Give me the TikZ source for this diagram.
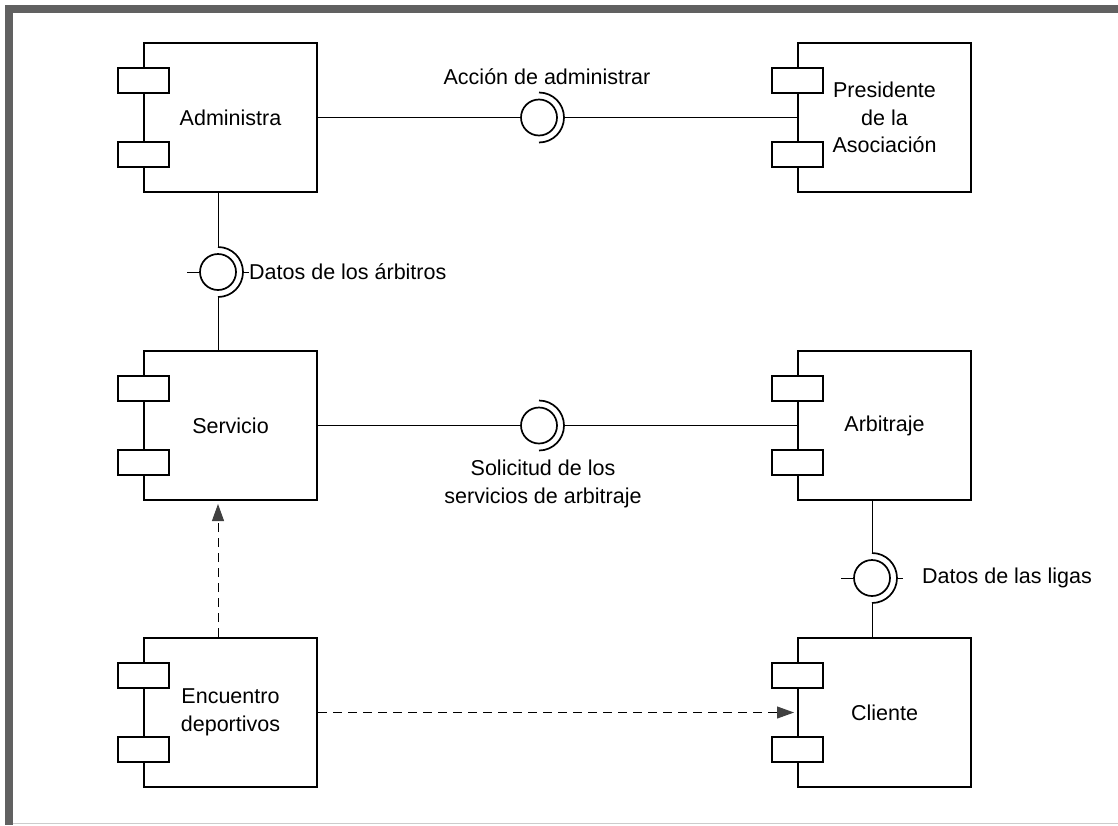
\documentclass[tikz,border=0pt]{standalone}
\usepackage{fontspec}
\setmainfont{Liberation Sans}
\usetikzlibrary{arrows.meta}
\newcommand{\ports}[1]{%
  \node[port] at ([yshift=37pt]#1.west) {};
  \node[port] at ([yshift=-37pt]#1.west) {};}
\newcommand{\socket}[1]{%
  \draw[sock] ([yshift=25pt]#1.center) arc[start angle=90,end angle=-90,radius=25pt];}
\begin{document}
\begin{tikzpicture}[x=1pt,y=-1pt,
  comp/.style={draw,line width=2pt,minimum width=173pt,minimum height=149pt,align=center,font=\fontsize{21.5}{27.5}\selectfont},
  port/.style={draw,fill=white,line width=2pt,minimum width=51pt,minimum height=25pt,inner sep=0pt},
  ball/.style={draw,circle,line width=1.7pt,minimum size=36pt,inner sep=0pt},
  sock/.style={line width=1.7pt},
  wire/.style={line width=0.9pt},
  dep/.style={line width=1pt,dash pattern=on 9pt off 6pt,-{Triangle[length=17pt,width=12pt,color=black!75]}},
  lbl/.style={inner sep=0pt,font=\fontsize{21.5}{27.5}\selectfont,align=center}]
\useasboundingbox (0,0) rectangle (1118,825);
\fill[black!62] (5,5) rectangle (1118,12.5);
\fill[black!62] (5,5) rectangle (12.5,825);
\draw[black!20] (12.5,823.5) -- (1118,823.5);

\node[comp] (adm) at (230.5,117.5) {Administra};
\node[comp] (pres) at (884.5,117.5) {Presidente\\de la\\Asociación};
\node[comp] (serv) at (230.5,425.5) {Servicio};
\node[comp] (arb) at (884.5,425.5) {Arbitraje};
\node[comp] (enc) at (230.5,712.5) {Encuentro\\deportivos};
\node[comp] (cli) at (884.5,712.5) {Cliente};
\ports{adm} \ports{pres} \ports{serv} \ports{arb} \ports{enc} \ports{cli}

\node[ball] (b1) at (539,117.5) {};
\node[ball] (b2) at (218,272) {};
\node[ball] (b3) at (539,425.5) {};
\node[ball] (b4) at (872,578) {};
\socket{b1} \socket{b2} \socket{b3} \socket{b4}

\draw[wire] (adm.east) -- (b1.west);
\draw[wire] (pres.west) -- ([xshift=25pt]b1.center);
\draw[wire] ([xshift=-12.5pt]adm.south) -- ([yshift=25pt]b2.center);
\draw[wire] ([xshift=-12.5pt]serv.north) -- ([yshift=-25pt]b2.center);
\draw[wire] (b2.west) -- ++(-12,0);
\draw[wire] ([xshift=25pt]b2.center) -- ++(6,0);
\draw[wire] (serv.east) -- (b3.west);
\draw[wire] (arb.west) -- ([xshift=25pt]b3.center);
\draw[wire] ([xshift=-12.5pt]arb.south) -- ([yshift=25pt]b4.center);
\draw[wire] ([xshift=-12.5pt]cli.north) -- ([yshift=-25pt]b4.center);
\draw[wire] (b4.west) -- ++(-12,0);
\draw[wire] ([xshift=25pt]b4.center) -- ++(6,0);

\draw[dep] ([xshift=-12.5pt]enc.north) -- ([xshift=-12.5pt,yshift=-3pt]serv.south);
\draw[dep] (enc.east) -- ([xshift=-3pt]cli.west);

\node[lbl] (l1) at (547,77) {Acción de administrar};
\node[lbl,anchor=west] (l2) at (249,272) {Datos de los árbitros};
\node[lbl] (l3) at (543,484) {Solicitud de los\\servicios de arbitraje};
\node[lbl,anchor=west] (l4) at (922,578) {Datos de las ligas};
\end{tikzpicture}
\end{document}
